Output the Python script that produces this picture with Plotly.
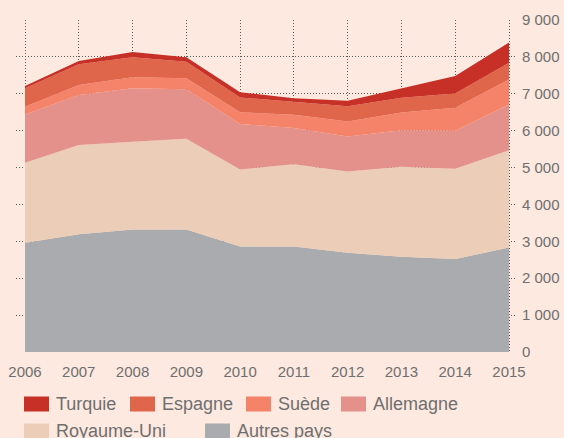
import plotly.graph_objects as go

# Demandes par pays de destination, 2006-2015
years = [2006, 2007, 2008, 2009, 2010, 2011, 2012, 2013, 2014, 2015]

autres_pays = [2960, 3190, 3320, 3320, 2860, 2860, 2690, 2580, 2520, 2830]
royaume_uni = [2170, 2420, 2380, 2460, 2090, 2230, 2200, 2440, 2450, 2640]
allemagne = [1310, 1360, 1450, 1340, 1230, 980, 950, 990, 1030, 1240]
suede = [210, 270, 300, 300, 320, 360, 410, 480, 620, 680]
espagne = [500, 560, 540, 450, 400, 360, 410, 400, 390, 450]
turquie = [60, 90, 140, 120, 140, 90, 150, 250, 470, 550]

y_ticks = [0, 1000, 2000, 3000, 4000, 5000, 6000, 7000, 8000, 9000]
y_tick_labels = ["0", "1 000", "2 000", "3 000", "4 000", "5 000",
                 "6 000", "7 000", "8 000", "9 000"]

# stacked from the bottom up
series = [
    ("Autres pays", autres_pays, "#aaabaf"),
    ("Royaume-Uni", royaume_uni, "#ebcdb8"),
    ("Allemagne", allemagne, "#e3918a"),
    ("Suède", suede, "#f5836a"),
    ("Espagne", espagne, "#e0664b"),
    ("Turquie", turquie, "#c63026"),
]

BG = "#fde9e0"
TEXT = "#6f6f6f"
GRID = "#5a5a5a"
FONT = "Liberation Sans, Arial, sans-serif"

W, H = 564, 438
M_L, M_R, M_T, M_B = 16, 48, 20, 86
PW = W - M_L - M_R
PH = H - M_T - M_B


def px_x(px):
    return (px - M_L) / PW


def px_y(py):
    return (H - M_B - py) / PH


fig = go.Figure()
for name, vals, color in series:
    fig.add_trace(go.Scatter(
        x=years, y=vals, name=name, stackgroup="one",
        mode="lines", line=dict(width=0, color=color),
        fillcolor=color, showlegend=False, hoverinfo="skip",
    ))

# legend: swatch + label, laid out in two rows
legend_items = [
    ("Turquie", "#c63026", 24, 404),
    ("Espagne", "#e0664b", 130, 404),
    ("Suède", "#f5836a", 246, 404),
    ("Allemagne", "#e3918a", 341, 404),
    ("Royaume-Uni", "#ebcdb8", 24, 431),
    ("Autres pays", "#aaabaf", 205, 431),
]
shapes = []
annotations = []
for label, color, sx, cy in legend_items:
    shapes.append(dict(
        type="rect", xref="paper", yref="paper",
        x0=px_x(sx), x1=px_x(sx + 25), y0=px_y(cy - 7.5), y1=px_y(cy + 7.5),
        fillcolor=color, line=dict(width=0), layer="above",
    ))
    annotations.append(dict(
        xref="paper", yref="paper", x=px_x(sx + 30), y=px_y(cy),
        xanchor="left", yanchor="middle", showarrow=False, text=label,
        font=dict(family=FONT, size=18, color=TEXT),
    ))

x_lo = 2006 - (25 - M_L) / ((509 - 25) / 9)
x_hi = 2015 + (M_L + PW - 509) / ((509 - 25) / 9)

fig.update_layout(
    width=W, height=H,
    margin=dict(l=M_L, r=M_R, t=M_T, b=M_B, autoexpand=False),
    paper_bgcolor=BG, plot_bgcolor=BG,
    font=dict(family=FONT, size=15, color=TEXT),
    showlegend=False,
    shapes=shapes, annotations=annotations,
    xaxis=dict(
        range=[x_lo, x_hi], tickvals=years, ticktext=[str(y) for y in years],
        showgrid=True, gridcolor=GRID, griddash="1px,2px", gridwidth=1,
        zeroline=False, showline=False, ticks="", ticklabelstandoff=9,
        automargin=False,
        tickfont=dict(family=FONT, size=15, color=TEXT),
    ),
    yaxis=dict(
        range=[0, 9000], side="right", tickvals=y_ticks, ticktext=y_tick_labels,
        showgrid=True, gridcolor=GRID, griddash="1px,2px", gridwidth=1,
        zeroline=False, showline=False, ticks="", ticklabelstandoff=5,
        automargin=False,
        tickfont=dict(family=FONT, size=15, color=TEXT),
    ),
)

fig.write_html("out.html")
